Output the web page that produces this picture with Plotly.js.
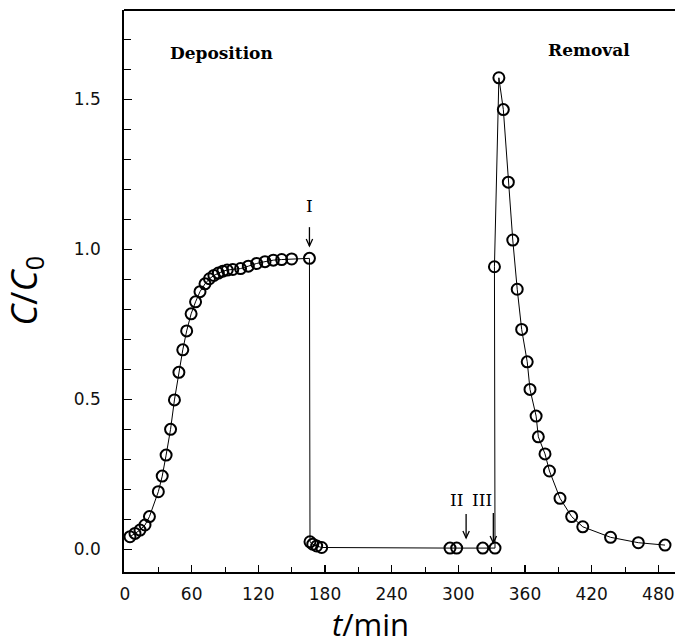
<!DOCTYPE html>
<html>
<head>
<meta charset="utf-8">
<script src="https://cdn.plot.ly/plotly-3.0.1.min.js"></script>
<style>html,body{margin:0;padding:0;background:#fff;}#chart{width:675px;height:644px;}</style>
</head>
<body>
<div id="chart"></div>
<script>
// time in minutes
var tMin = [4.5, 9, 13.5, 18, 22, 30, 33.5, 37, 41, 44.5, 48.5, 52, 55.5, 59.5, 63.5, 67.5,
  72, 76, 80, 84, 88, 92, 97, 104, 111, 118.5, 126, 133.5, 141, 150, 166,
  166.5, 169, 172.5, 177,
  292.5, 298.5, 322, 333,
  332.5, 336.5, 340.5, 345, 349, 353, 357, 362, 364.5, 370, 372, 378, 382, 391.5, 402, 412, 437, 462, 486];
// relative concentration C/C0
var cRatio = [0.042, 0.053, 0.064, 0.081, 0.109, 0.192, 0.244, 0.314, 0.40, 0.498, 0.59, 0.665, 0.728, 0.785, 0.825, 0.859,
  0.885, 0.902, 0.913, 0.921, 0.927, 0.931, 0.933, 0.936, 0.944, 0.953, 0.959, 0.964, 0.966, 0.968, 0.970,
  0.025, 0.017, 0.011, 0.006,
  0.004, 0.004, 0.004, 0.004,
  0.942, 1.572, 1.466, 1.224, 1.031, 0.867, 0.733, 0.625, 0.533, 0.444, 0.375, 0.318, 0.261, 0.170, 0.109, 0.075, 0.040, 0.022, 0.014];

var xTickVals = [0, 60, 120, 180, 240, 300, 360, 420, 480];
var yTickVals = [0.0, 0.5, 1.0, 1.5];
var yTickText = ['0.0', '0.5', '1.0', '1.5'];

var phaseLabels = ['Deposition', 'Removal'];
var phaseT = [87, 418];
var phaseC = [1.654, 1.664];

var stepLabels = ['I', 'II', 'III'];
var stepLabelT = [166, 298.5, 321];
var stepLabelC = [1.144, 0.164, 0.164];
var arrowT = [166, 307, 331.5];
var arrowTipC = [1.011, 0.038, 0.021];
var arrowTailC = [1.074, 0.118, 0.121];

var trace = {
  x: tMin, y: cRatio, type: 'scatter', mode: 'lines+markers',
  line: {color: '#000', width: 1},
  marker: {symbol: 'circle-open', size: 11, color: '#000', line: {color: '#000', width: 2}},
  hoverinfo: 'none', showlegend: false
};

var ann = [];
for (var i = 0; i < phaseLabels.length; i++) {
  ann.push({x: phaseT[i], y: phaseC[i], xref: 'x', yref: 'y', text: '<b>' + phaseLabels[i] + '</b>',
    showarrow: false, font: {family: 'DejaVu Serif', size: 17, color: '#000'}});
}
var shapes = [];
// top frame line
shapes.push({type: 'line', xref: 'paper', yref: 'paper', x0: 0, x1: 1, y0: 1, y1: 1,
  line: {color: '#000', width: 1.8}});
// arrow head size in data units (about 3.5 px half width, 7 px tall)
var headHalfW = 3.2 / 1.111;
var headH = 7 / 300;
for (var j = 0; j < stepLabels.length; j++) {
  ann.push({x: stepLabelT[j], y: stepLabelC[j], xref: 'x', yref: 'y', text: stepLabels[j],
    showarrow: false, font: {family: 'DejaVu Serif', size: 17, color: '#000'}});
  shapes.push({type: 'line', xref: 'x', yref: 'y', x0: arrowT[j], x1: arrowT[j], y0: arrowTailC[j], y1: arrowTipC[j],
    line: {color: '#000', width: 1.3}});
  shapes.push({type: 'path', xref: 'x', yref: 'y',
    path: 'M' + (arrowT[j] - headHalfW) + ',' + (arrowTipC[j] + headH) + ' L' + arrowT[j] + ',' + arrowTipC[j] +
          ' L' + (arrowT[j] + headHalfW) + ',' + (arrowTipC[j] + headH),
    line: {color: '#000', width: 1.3}});
}
ann.push({x: -0.18, y: 0.50, xref: 'paper', yref: 'paper', text: '<i>C</i>/<i>C</i><sub>0</sub>',
  textangle: -90, showarrow: false, xanchor: 'center', yanchor: 'middle',
  font: {family: 'Open Sans', size: 36, color: '#000'}});
ann.push({x: 0.448, y: -0.093, xref: 'paper', yref: 'paper', text: '<i>t</i>/min',
  showarrow: false, xanchor: 'center', yanchor: 'middle',
  font: {family: 'Open Sans', size: 31, color: '#000'}});

var layout = {
  width: 675, height: 644,
  margin: {l: 124, r: 0, t: 10, b: 72, pad: 0},
  paper_bgcolor: '#fff', plot_bgcolor: '#fff',
  xaxis: {
    range: [-0.9, 495], showgrid: false, zeroline: false,
    showline: true, mirror: false, linecolor: '#000', linewidth: 1.8,
    tickmode: 'array', tickvals: xTickVals,
    ticks: 'inside', ticklen: 7, tickwidth: 1.2, tickcolor: '#000',
    minor: {dtick: 30, tick0: 30, ticks: 'inside', ticklen: 5, tickwidth: 1, tickcolor: '#000', showgrid: false},
    tickfont: {family: 'DejaVu Sans', size: 17, color: '#111'},
    ticklabelstandoff: 6
  },
  yaxis: {
    range: [-0.0757, 1.798], showgrid: false, zeroline: false,
    showline: true, mirror: false, linecolor: '#000', linewidth: 1.8,
    tickmode: 'array', tickvals: yTickVals, ticktext: yTickText,
    ticks: 'inside', ticklen: 8, tickwidth: 1.2, tickcolor: '#000',
    minor: {dtick: 0.1, tick0: 0, ticks: 'inside', ticklen: 7, tickwidth: 1, tickcolor: '#000', showgrid: false},
    tickfont: {family: 'DejaVu Sans', size: 17, color: '#111'},
    ticklabelstandoff: 18
  },
  shapes: shapes,
  annotations: ann
};

Plotly.newPlot('chart', [trace], layout, {displayModeBar: false, staticPlot: true});
</script>
</body>
</html>
